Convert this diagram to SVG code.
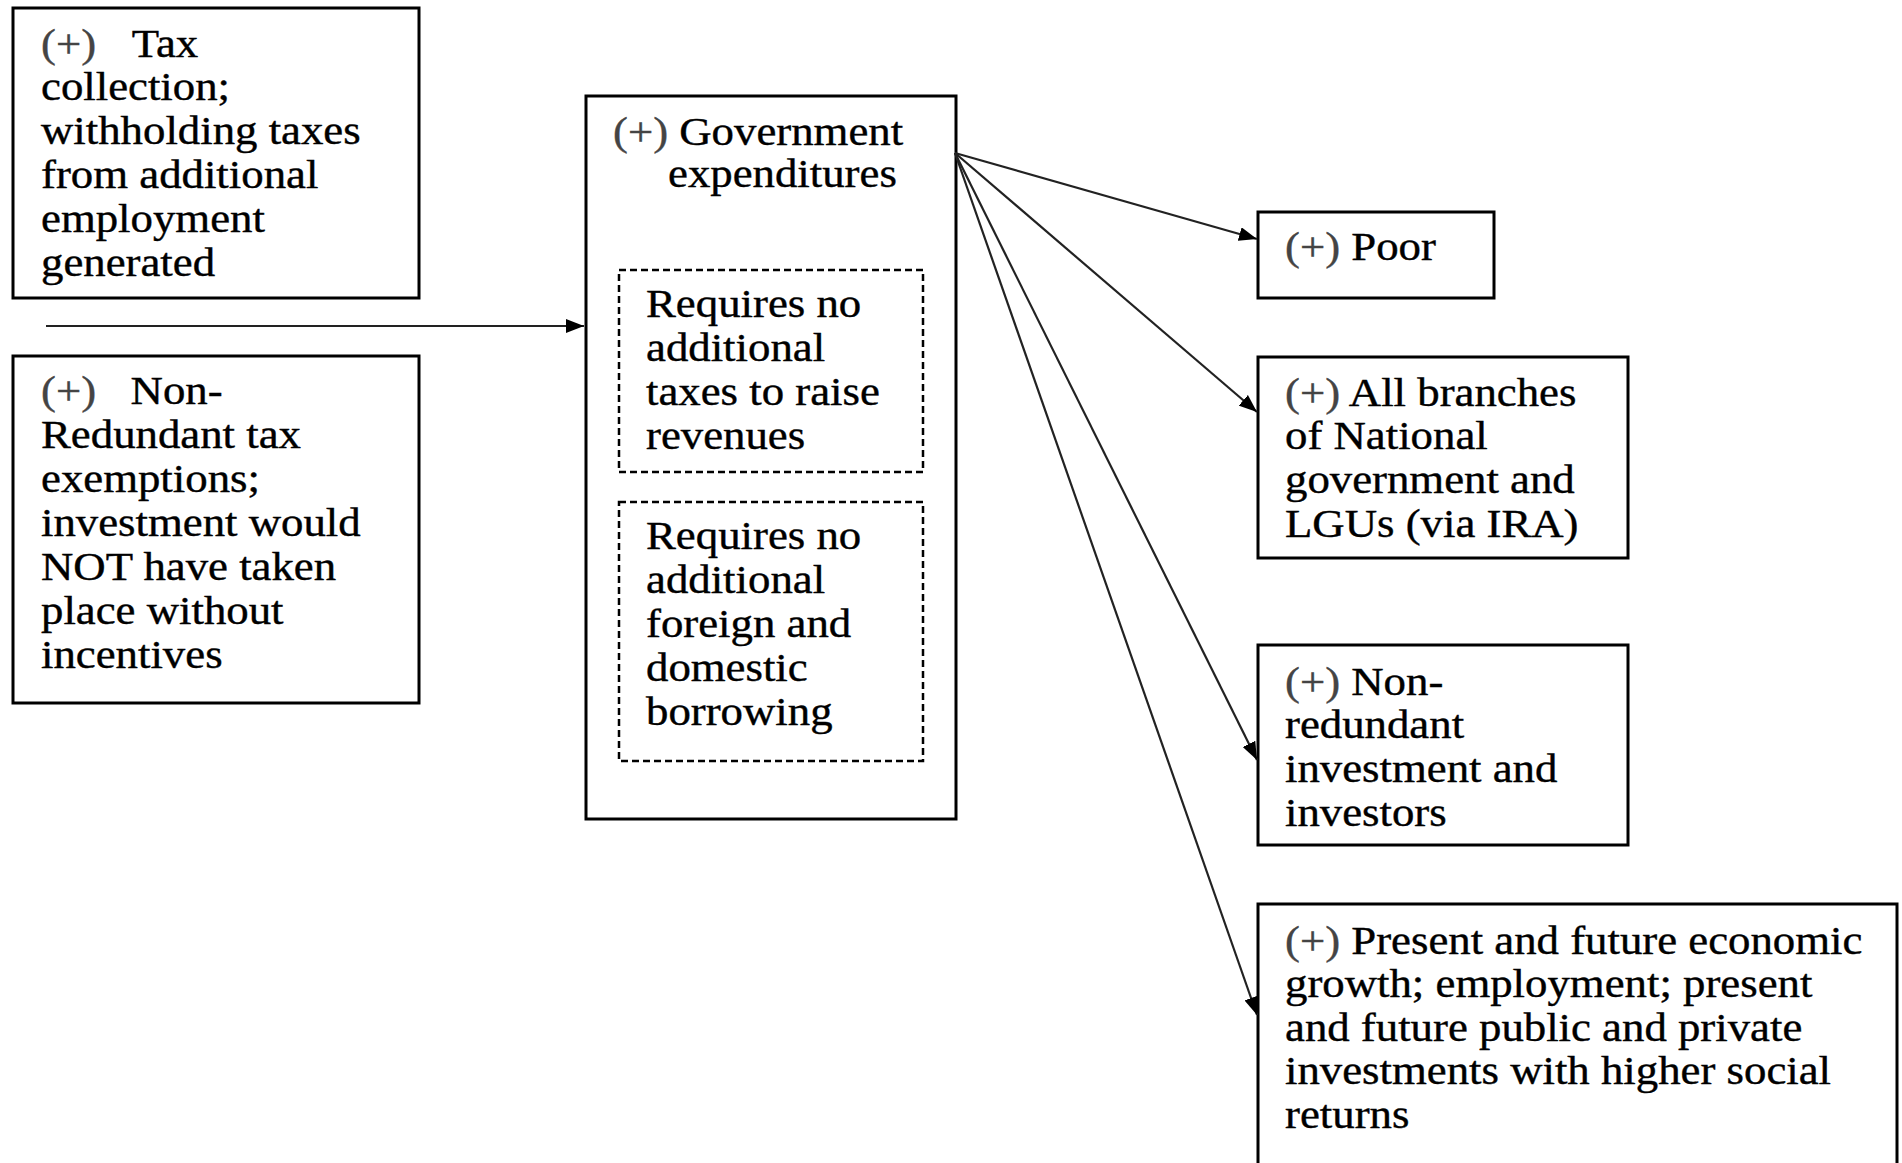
<svg xmlns="http://www.w3.org/2000/svg" width="1902" height="1163" viewBox="0 0 1902 1163">
<style>
.box{fill:#fff;stroke:#000;stroke-width:3}
.dash{fill:none;stroke:#000;stroke-width:2.5;stroke-dasharray:7 4}
.t{font-family:"Liberation Serif","Times New Roman",serif;font-size:40px;fill:#000;stroke:#000;stroke-width:0.4}
.p{fill:#444;stroke:#444}
.conn{stroke:#222;stroke-width:2.2;fill:none}
</style>
<defs>
<marker id="ah" markerUnits="userSpaceOnUse" markerWidth="18" markerHeight="14" refX="18" refY="7" orient="auto">
<path d="M0,0 L18,7 L0,14 z" fill="#000"/>
</marker>
</defs>
<rect width="1902" height="1163" fill="#fff"/>

<g id="tax-collection">
<rect class="box" x="13" y="8" width="406" height="290"/>
<text class="t" transform="translate(41,57) scale(1.12,1)"><tspan class="p" x="0" y="0">(+)</tspan><tspan x="81" y="0">Tax</tspan><tspan x="0" y="43">collection;</tspan><tspan x="0" y="87">withholding taxes</tspan><tspan x="0" y="131">from additional</tspan><tspan x="0" y="175">employment</tspan><tspan x="0" y="219">generated</tspan></text>
</g>

<g id="non-redundant-exemptions">
<rect class="box" x="13" y="356" width="406" height="347"/>
<text class="t" transform="translate(41,404) scale(1.12,1)"><tspan class="p" x="0" y="0">(+)</tspan><tspan x="80" y="0">Non-</tspan><tspan x="0" y="44">Redundant tax</tspan><tspan x="0" y="88">exemptions;</tspan><tspan x="0" y="132">investment would</tspan><tspan x="0" y="176">NOT have taken</tspan><tspan x="0" y="220">place without</tspan><tspan x="0" y="264">incentives</tspan></text>
</g>

<g id="government-expenditures">
<rect class="box" x="586" y="96" width="370" height="723"/>
<text class="t" transform="translate(613,145) scale(1.12,1)"><tspan class="p">(+)</tspan> Government</text>
<text class="t" transform="translate(668,187) scale(1.12,1)">expenditures</text>
</g>

<g id="no-additional-taxes">
<rect class="dash" x="619" y="270" width="304" height="202"/>
<text class="t" transform="translate(646,317) scale(1.12,1)"><tspan x="0" y="0">Requires no</tspan><tspan x="0" y="44">additional</tspan><tspan x="0" y="88">taxes to raise</tspan><tspan x="0" y="132">revenues</tspan></text>
</g>

<g id="no-additional-borrowing">
<rect class="dash" x="619" y="502" width="304" height="259"/>
<text class="t" transform="translate(646,549) scale(1.12,1)"><tspan x="0" y="0">Requires no</tspan><tspan x="0" y="44">additional</tspan><tspan x="0" y="88">foreign and</tspan><tspan x="0" y="132">domestic</tspan><tspan x="0" y="176">borrowing</tspan></text>
</g>

<g id="poor">
<rect class="box" x="1258" y="212" width="236" height="86"/>
<text class="t" transform="translate(1285,260) scale(1.12,1)"><tspan class="p">(+)</tspan> Poor</text>
</g>

<g id="all-branches">
<rect class="box" x="1258" y="357" width="370" height="201"/>
<text class="t" transform="translate(1285,406) scale(1.12,1)"><tspan x="0" y="0"><tspan class="p">(+)</tspan> All branches</tspan><tspan x="0" y="43">of National</tspan><tspan x="0" y="87">government and</tspan><tspan x="0" y="131">LGUs (via IRA)</tspan></text>
</g>

<g id="non-redundant-investment">
<rect class="box" x="1258" y="645" width="370" height="200"/>
<text class="t" transform="translate(1285,695) scale(1.12,1)"><tspan x="0" y="0"><tspan class="p">(+)</tspan> Non-</tspan><tspan x="0" y="43">redundant</tspan><tspan x="0" y="87">investment and</tspan><tspan x="0" y="131">investors</tspan></text>
</g>

<g id="economic-growth">
<rect class="box" x="1258" y="904" width="639" height="280"/>
<text class="t" transform="translate(1285,954) scale(1.12,1)"><tspan x="0" y="0"><tspan class="p">(+)</tspan> Present and future economic</tspan><tspan x="0" y="43.5">growth; employment; present</tspan><tspan x="0" y="87">and future public and private</tspan><tspan x="0" y="130.5">investments with higher social</tspan><tspan x="0" y="174">returns</tspan></text>
</g>

<g id="connectors">
<line class="conn" x1="46" y1="326" x2="584" y2="326" marker-end="url(#ah)"/>
<line class="conn" x1="955" y1="153" x2="1257" y2="239" marker-end="url(#ah)"/>
<line class="conn" x1="955" y1="153" x2="1257" y2="412" marker-end="url(#ah)"/>
<line class="conn" x1="955" y1="153" x2="1257" y2="760" marker-end="url(#ah)"/>
<line class="conn" x1="955" y1="153" x2="1257" y2="1015" marker-end="url(#ah)"/>
</g>
</svg>
